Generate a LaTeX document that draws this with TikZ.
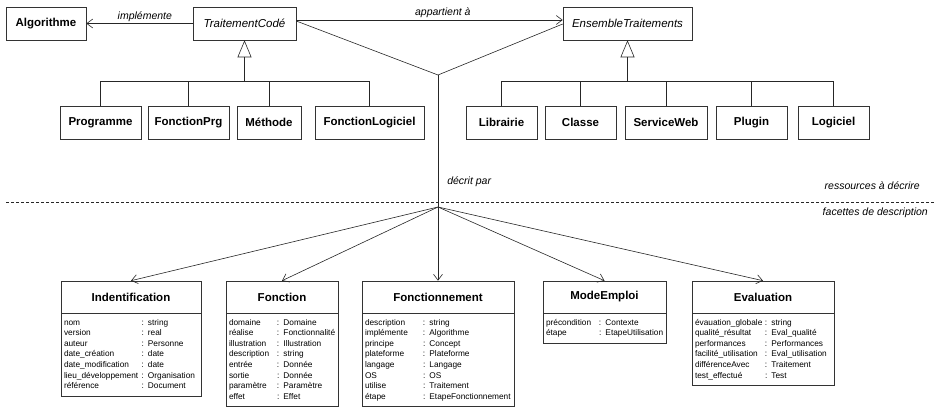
\documentclass[tikz,border=0pt]{standalone}
\usepackage{fontspec}
\setmainfont{Liberation Sans}
\usepackage{tikz}
\usetikzlibrary{arrows.meta,positioning}
\tikzstyle{cls} = [draw=black!80, line width=0.6pt, minimum height=33pt, inner sep=0pt, font=\fontsize{11.5}{13}\selectfont\bfseries]
\tikzstyle{abstr} = [cls, font=\fontsize{11.5}{13}\selectfont\itshape]
\tikzstyle{facet} = [draw=black!80, line width=0.6pt, minimum height=32pt, inner sep=0pt, font=\fontsize{11.5}{13}\selectfont\bfseries]
\tikzstyle{attrs} = [draw=black!80, line width=0.6pt, inner xsep=3pt, inner ysep=4pt, align=left, font=\fontsize{8.3}{10.6}\selectfont]
\tikzstyle{line} = [draw=black!85, line width=0.6pt]
\tikzstyle{assoc} = [line, -{Straight Barb[length=6pt,width=9pt]}]
\tikzstyle{inherit} = [line, -{Triangle[open,length=17pt,width=14pt]}]
\tikzstyle{lbl} = [font=\fontsize{10.5}{12}\selectfont\itshape, inner sep=2pt]

\begin{document}
\begin{tikzpicture}[x=1pt, y=-1pt]
    \useasboundingbox (0,0) rectangle (934,409);

    \node (algo) [cls, minimum width=80pt] at (46,23.5) {Algorithme};
    \node (tc) [abstr, minimum width=103pt] at (244.5,23.5) {TraitementCodé};
    \node (et) [abstr, minimum width=129pt] at (627.5,23.5) {EnsembleTraitements};

    \node (prog) [cls, minimum width=81pt] at (100.5,122.5) {Programme};
    \node (fprg) [cls, minimum width=81pt] at (188.5,122.5) {FonctionPrg};
    \node (meth) [cls, minimum width=64pt] at (269,122.5) {Méthode};
    \node (flog) [cls, minimum width=109pt] at (369.5,122.5) {FonctionLogiciel};

    \node (lib) [cls, minimum width=71pt] at (501.5,122.5) {Librairie};
    \node (classe) [cls, minimum width=71pt] at (580.5,122.5) {Classe};
    \node (sweb) [cls, minimum width=82pt] at (666,122.5) {ServiceWeb};
    \node (plug) [cls, minimum width=71pt] at (751.5,122.5) {Plugin};
    \node (logi) [cls, minimum width=71pt] at (833.5,122.5) {Logiciel};

    \coordinate (gTC) at (244.5,81);
    \coordinate (gET) at (627.5,81);
    \coordinate (jA) at (438,75);
    \coordinate (jB) at (438,207);

    \path[inherit] (gTC) -- (tc);
    \foreach \c in {prog,fprg,meth,flog} \path[line] (\c.north) |- (gTC);
    \path[inherit] (gET) -- (et);
    \foreach \c in {lib,classe,sweb,plug,logi} \path[line] (\c.north) |- (gET);

    \path[assoc] (tc.west) -- node[lbl, above, pos=0.45] {implémente} (algo.east);
    \path[assoc] ([yshift=3.5pt]tc.east) -- node[lbl, above, pos=0.55] {appartient à} ([yshift=3.5pt]et.west);
    \path[line] ([yshift=2.5pt]tc.east) -- (jA);
    \path[line] ([yshift=-0.5pt]et.west) -- (jA);
    \path[line] (jA) -- node[lbl, right=7pt, pos=0.81] {décrit par} (jB);

    \draw[black!85, line width=0.6pt, dash pattern=on 3pt off 2pt] (6,202) -- (934,202);
    \node (res) [lbl, anchor=east] at (922,186) {ressources à décrire};
    \node (fac) [lbl, anchor=east] at (930,213) {facettes de description};

    % facettes
    \node (ind) [facet, minimum width=140pt] at (131,297) {Indentification};
    \node (indA) [attrs, text width=134pt, below=0pt of ind] {\begin{tabular}{@{}p{77.5pt}@{}l@{}}
        nom & : string\\
        version & : real\\
        auteur & : Personne\\
        date\_création & : date\\
        date\_modification & : date\\
        lieu\_développement & : Organisation\\
        référence & : Document
    \end{tabular}};

    \node (fon) [facet, minimum width=112pt] at (282,297) {Fonction};
    \node (fonA) [attrs, text width=106pt, below=0pt of fon] {\begin{tabular}{@{}p{48pt}@{}l@{}}
        domaine & : Domaine\\
        réalise & : Fonctionnalité\\
        illustration & : Illustration\\
        description & : string\\
        entrée & : Donnée\\
        sortie & : Donnée\\
        paramètre & : Paramètre\\
        effet & : Effet
    \end{tabular}};

    \node (fnct) [facet, minimum width=152pt] at (438,297) {Fonctionnement};
    \node (fnctA) [attrs, text width=146pt, below=0pt of fnct] {\begin{tabular}{@{}p{58pt}@{}l@{}}
        description & : string\\
        implémente & : Algorithme\\
        principe & : Concept\\
        plateforme & : Plateforme\\
        langage & : Langage\\
        OS & : OS\\
        utilise & : Traitement\\
        étape & : EtapeFonctionnement
    \end{tabular}};

    \node (mode) [facet, minimum width=123pt] at (604.5,297) {ModeEmploi};
    \node (modeA) [attrs, text width=117pt, below=0pt of mode] {\begin{tabular}{@{}p{53pt}@{}l@{}}
        précondition & : Contexte\\
        étape & : EtapeUtilisation
    \end{tabular}};

    \node (eval) [facet, minimum width=142pt] at (763,297) {Evaluation};
    \node (evalA) [attrs, text width=136pt, below=0pt of eval] {\begin{tabular}{@{}p{70pt}@{}l@{}}
        évauation\_globale & : string\\
        qualité\_résultat & : Eval\_qualité\\
        performances & : Performances\\
        facilité\_utilisation & : Eval\_utilisation\\
        différenceAvec & : Traitement\\
        test\_effectué & : Test
    \end{tabular}};

    \foreach \f in {ind,fon,fnct,mode,eval} \path[assoc] (jB) -- (\f.north);
\end{tikzpicture}
\end{document}
